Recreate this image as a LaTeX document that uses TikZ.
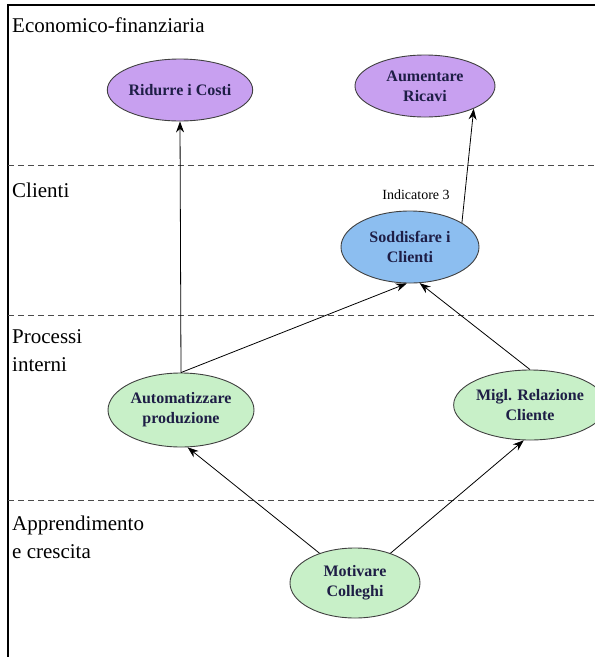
\documentclass[tikz,border=0pt]{standalone}
\usepackage{fontspec}
\setmainfont{Liberation Serif}
\usetikzlibrary{shapes.geometric,arrows.meta}

\definecolor{viola}{RGB}{200,160,240}
\definecolor{azzurro}{RGB}{140,190,240}
\definecolor{verde}{RGB}{200,240,200}
\definecolor{scritta}{RGB}{30,30,70}

\begin{document}
\begin{tikzpicture}[x=1pt,y=-1pt,
  obiettivo/.style={ellipse,draw=black!75,line width=0.9pt,inner sep=0pt,align=center,
    font=\fontsize{16}{20}\selectfont\bfseries,text=scritta},
  prospettiva/.style={anchor=base west,inner sep=0pt,align=left,font=\fontsize{21}{28}\selectfont},
  freccia/.style={-{Stealth[length=11pt,width=8pt]},line width=0.8pt},
  separa/.style={line width=1pt,black!70,dash pattern=on 6pt off 4pt}]
\useasboundingbox (0,0) rectangle (595,657);
% cornice e fasce
\draw[line width=1.2pt] (8,657) -- (8,5) -- (595,5);
\draw[separa] (8,165) -- (595,165);
\draw[separa] (8,315) -- (595,315);
\draw[separa] (8,500) -- (595,500);
\node[prospettiva] (econ) at (12,32) {Economico-finanziaria};
\node[prospettiva] (clie) at (12,197) {Clienti};
\node[prospettiva] (proc) at (12,371) {Processi\\interni};
\node[prospettiva] (appr) at (12,558) {Apprendimento\\e crescita};
% obiettivi
\node[obiettivo,fill=viola,minimum width=140pt,minimum height=62pt] (costi) at (180,90) {Ridurre i Costi};
\node[obiettivo,fill=viola,minimum width=140pt,minimum height=62pt] (ricavi) at (425,86) {Aumentare\\Ricavi};
\node[obiettivo,fill=azzurro,minimum width=138pt,minimum height=72pt] (soddisfa) at (410,247) {Soddisfare i\\Clienti};
\node[font=\fontsize{14}{16}\selectfont,inner sep=0pt] (indicatore) at (416,195) {Indicatore 3};
\node[obiettivo,fill=verde,minimum width=146pt,minimum height=74pt] (automa) at (181,410) {Automatizzare\\produzione};
\node[obiettivo,fill=verde,minimum width=136pt,minimum height=70pt] (relazione) at (530,405) {Migl. Relazione\\Cliente};
\node[obiettivo,fill=verde,minimum width=130pt,minimum height=70pt] (motivare) at (355,583) {Motivare\\Colleghi};
% frecce
\draw[freccia] (automa.north) -- (costi.south);
\draw[freccia] (automa.north) -- (soddisfa.265);
\draw[freccia] (relazione.north) -- (soddisfa.285);
\draw[freccia] (soddisfa.25) -- (ricavi.-25);
\draw[freccia] (motivare.140) -- (automa.-80);
\draw[freccia] (motivare.40) -- (relazione.-100);
\end{tikzpicture}
\end{document}
